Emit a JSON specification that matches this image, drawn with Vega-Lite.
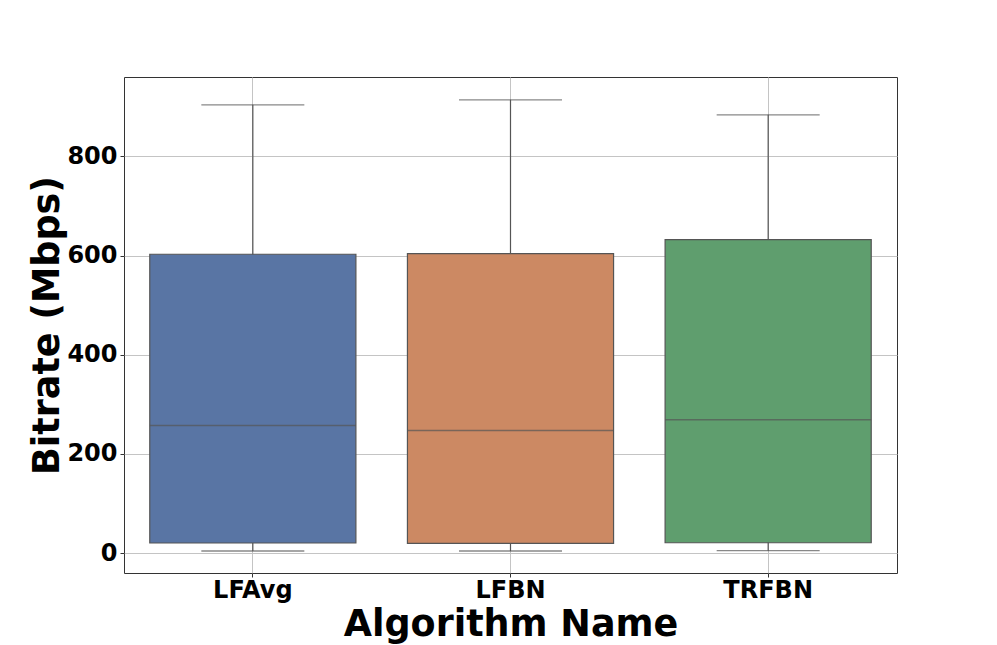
{
  "$schema": "https://vega.github.io/schema/vega-lite/v6.json",
  "autosize": {"type": "none"},
  "width": 773,
  "height": 496,
  "padding": {"left": 124, "top": 77, "right": 100, "bottom": 72},
  "background": "white",
  "config": {
    "font": "DejaVu Sans",
    "view": {"stroke": "#333333", "strokeWidth": 1},
    "axis": {
      "labelFont": "DejaVu Sans",
      "labelFontWeight": "bold",
      "labelFontSize": 24,
      "labelColor": "black",
      "titleFont": "DejaVu Sans",
      "titleFontWeight": "bold",
      "titleFontSize": 36.5,
      "titleColor": "black",
      "grid": true,
      "gridColor": "#c4c4c4",
      "gridWidth": 1,
      "domain": false,
      "tickColor": "#333333",
      "tickSize": 4,
      "tickWidth": 1
    }
  },
  "data": {
    "values": [
      {"algorithm": "LFAvg", "lower": 4.4, "q1": 20.5, "median": 257.4, "q3": 602.6, "upper": 904},
      {"algorithm": "LFBN", "lower": 4.4, "q1": 19.7, "median": 247.3, "q3": 603.8, "upper": 914},
      {"algorithm": "TRFBN", "lower": 5, "q1": 21, "median": 268.9, "q3": 632, "upper": 883.8}
    ]
  },
  "encoding": {
    "x": {
      "field": "algorithm",
      "type": "nominal",
      "sort": ["LFAvg", "LFBN", "TRFBN"],
      "scale": {"paddingInner": 0, "paddingOuter": 0},
      "axis": {"title": "Algorithm Name", "labelAngle": 0, "bandPosition": 0.5, "labelPadding": 1, "titlePadding": 4}
    }
  },
  "layer": [
    {
      "mark": {"type": "rule", "color": "#555555", "strokeWidth": 1.2},
      "encoding": {
        "y": {
          "field": "lower",
          "type": "quantitative",
          "scale": {"domain": [-40, 960], "nice": false, "zero": false},
          "axis": {"title": "Bitrate (Mbps)", "values": [0, 200, 400, 600, 800], "labelPadding": 3, "titlePadding": 0}
        },
        "y2": {"field": "upper"}
      }
    },
    {
      "mark": {"type": "bar", "width": {"band": 0.8}, "stroke": "#555555", "strokeWidth": 1.2},
      "encoding": {
        "y": {"field": "q1", "type": "quantitative"},
        "y2": {"field": "q3"},
        "color": {
          "field": "algorithm",
          "type": "nominal",
          "scale": {"domain": ["LFAvg", "LFBN", "TRFBN"], "range": ["#5975a4", "#cc8963", "#5f9e6e"]},
          "legend": null
        }
      }
    },
    {
      "mark": {"type": "tick", "color": "#555555", "thickness": 1.5, "size": 206},
      "encoding": {"y": {"field": "median", "type": "quantitative"}}
    },
    {
      "mark": {"type": "tick", "color": "#555555", "thickness": 1.3, "size": 103},
      "encoding": {"y": {"field": "upper", "type": "quantitative"}}
    },
    {
      "mark": {"type": "tick", "color": "#555555", "thickness": 1.3, "size": 103},
      "encoding": {"y": {"field": "lower", "type": "quantitative"}}
    }
  ]
}
